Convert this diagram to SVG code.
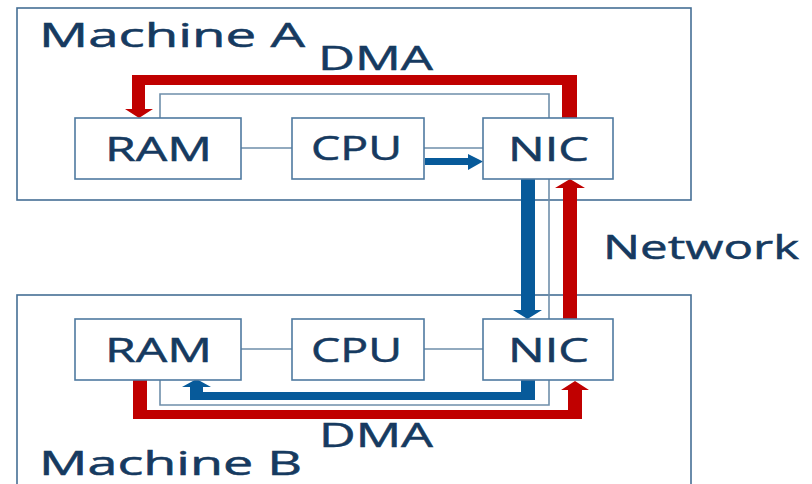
<svg xmlns="http://www.w3.org/2000/svg" width="812" height="484" viewBox="0 0 812 484">
<style>
.mach{fill:none;stroke:#456f95;stroke-width:1.6}
.box{fill:#ffffff;stroke:#4f7aa0;stroke-width:1.6}
.thin{fill:none;stroke:#6f8fab;stroke-width:1.6}
.red{fill:#c00000}
.blue{fill:#075a9a}
text{font-family:"Open Sans","Noto Sans","Liberation Sans",sans-serif;font-size:32px;fill:#163a60;stroke:#163a60;stroke-width:0.5}
</style>
<rect width="812" height="484" fill="#ffffff"/>
<g id="machineA">
<rect class="mach" x="17" y="8" width="674" height="192"/>
<text x="39" y="47" textLength="266" lengthAdjust="spacingAndGlyphs">Machine A</text>
</g>
<g id="machineB">
<rect class="mach" x="17" y="295" width="674" height="200"/>
<text x="39" y="475" textLength="263" lengthAdjust="spacingAndGlyphs">Machine B</text>
</g>
<g id="connectors">
<path class="thin" d="M241,148H292M424,148H483M241,349H292M424,349H483"/>
<path class="thin" d="M160,118V94H549V118"/>
<path class="thin" d="M549,179V319"/>
<path class="thin" d="M160,380V405H549V380"/>
<polygon class="red" points="577,118 577,75 132,75 132,109 125,109 139,118 153,109 145,109 145,85 562,85 562,118"/>
<polygon class="blue" points="425,158 468,158 468,154 483,161.5 468,170 468,165 425,165"/>
<polygon class="blue" points="521,179 535,179 535,310 542,310 527.5,319 513,310 521,310"/>
<polygon class="red" points="563,319 563,188 555,188 570,179 585,188 577,188 577,319"/>
<polygon class="blue" points="521,380 535,380 535,400 190,400 190,387 182,387 196.5,379 211,387 203,387 203,392 521,392"/>
<polygon class="red" points="133,380 147,380 147,410 568,410 568,390 561,390 575,381 589,390 582,390 582,419 133,419"/>
<text x="318" y="70" textLength="115" lengthAdjust="spacingAndGlyphs">DMA</text>
<text x="603" y="259" textLength="196" lengthAdjust="spacingAndGlyphs">Network</text>
<text x="319" y="447" textLength="114" lengthAdjust="spacingAndGlyphs">DMA</text>
</g>
<g id="ramA">
<rect class="box" x="75" y="118" width="166" height="61"/>
<text x="105" y="161" textLength="107" lengthAdjust="spacingAndGlyphs">RAM</text>
</g>
<g id="cpuA">
<rect class="box" x="292" y="118" width="132" height="61"/>
<text x="311" y="160" textLength="91" lengthAdjust="spacingAndGlyphs">CPU</text>
</g>
<g id="nicA">
<rect class="box" x="483" y="118" width="130" height="61"/>
<text x="508" y="161" textLength="81" lengthAdjust="spacingAndGlyphs">NIC</text>
</g>
<g id="ramB">
<rect class="box" x="75" y="319" width="166" height="61"/>
<text x="105" y="362" textLength="107" lengthAdjust="spacingAndGlyphs">RAM</text>
</g>
<g id="cpuB">
<rect class="box" x="292" y="319" width="132" height="61"/>
<text x="311" y="362" textLength="91" lengthAdjust="spacingAndGlyphs">CPU</text>
</g>
<g id="nicB">
<rect class="box" x="483" y="319" width="130" height="61"/>
<text x="508" y="362" textLength="81" lengthAdjust="spacingAndGlyphs">NIC</text>
</g>
</svg>
